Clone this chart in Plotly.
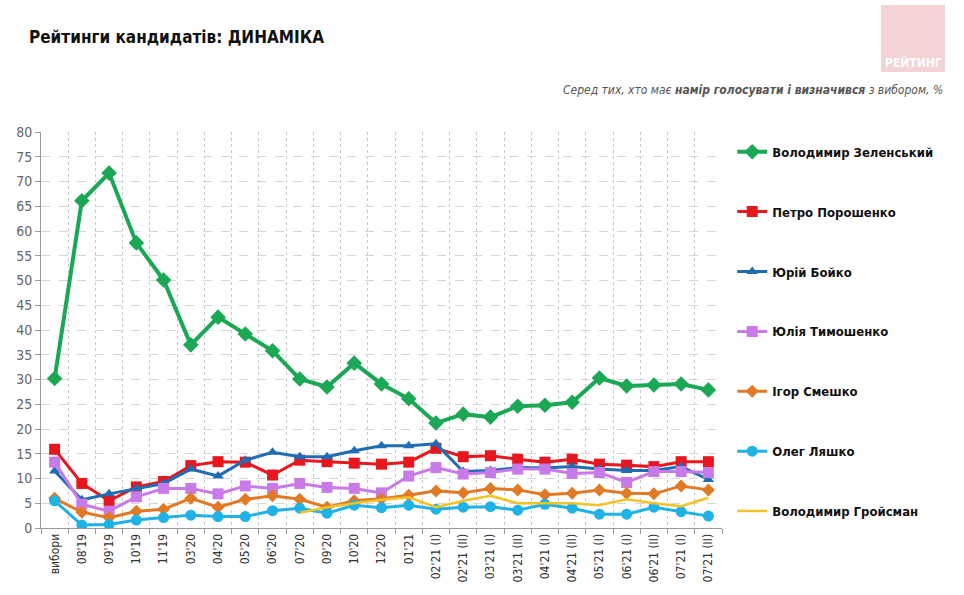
import plotly.graph_objects as go

categories = ["вибори", "08'19", "09'19", "10'19", "11'19", "03'20", "04'20", "05'20", "06'20",
              "07'20", "09'20", "10'20", "12'20", "01'21", "02'21 (I)", "02'21 (II)", "03'21 (I)",
              "03'21 (II)", "04'21 (I)", "04'21 (II)", "05'21 (I)", "06'21 (I)", "06'21 (II)",
              "07'21 (I)", "07'21 (II)"]

zelensky = [30.2, 66.1, 71.7, 57.6, 50.1, 37.0, 42.6, 39.2, 35.8, 30.1, 28.5, 33.3, 29.1, 26.1,
            21.2, 23.0, 22.4, 24.6, 24.8, 25.4, 30.3, 28.7, 28.9, 29.1, 27.9]
poroshenko = [15.9, 9.0, 5.5, 8.3, 9.4, 12.6, 13.4, 13.3, 10.7, 13.7, 13.4, 13.1, 12.9, 13.3,
              16.1, 14.4, 14.6, 13.9, 13.3, 13.9, 12.9, 12.7, 12.4, 13.4, 13.4]
boyko = [11.5, 5.7, 6.9, 8.0, 9.0, 11.9, 10.5, 13.7, 15.3, 14.4, 14.4, 15.6, 16.6, 16.6,
         17.0, 11.4, 11.6, 12.2, 12.1, 12.4, 11.9, 11.6, 11.6, 12.4, 9.8]
tymoshenko = [13.3, 4.8, 3.4, 6.3, 8.0, 8.0, 6.9, 8.5, 8.0, 9.0, 8.2, 8.0, 7.1, 10.5,
              12.2, 10.9, 11.2, 11.9, 11.9, 11.0, 11.2, 9.2, 11.4, 11.4, 11.2]
smeshko = [6.0, 3.2, 2.1, 3.4, 3.8, 6.0, 4.2, 5.8, 6.5, 5.8, 4.2, 5.5, 5.9, 6.6,
           7.5, 7.1, 8.0, 7.7, 6.7, 7.0, 7.7, 7.0, 6.9, 8.5, 7.7]
lyashko = [5.5, 0.6, 0.7, 1.6, 2.1, 2.6, 2.3, 2.3, 3.5, 4.0, 3.0, 4.6, 4.1, 4.6,
           3.8, 4.2, 4.3, 3.6, 4.8, 4.0, 2.8, 2.8, 4.2, 3.3, 2.4]
groysman = [None, None, None, None, None, None, None, None, None, 3.1, 4.2, 5.0, 5.7, 6.2,
            4.2, 5.5, 6.5, 5.0, 5.0, 5.0, 4.6, 5.8, 5.0, 4.4, 6.1]

names = ["Володимир Зеленський", "Петро Порошенко", "Юрій Бойко", "Юлія Тимошенко",
         "Ігор Смешко", "Олег Ляшко", "Володимир Гройсман"]

y_ticks = list(range(0, 81, 5))

FONT = "Liberation Sans Narrow, DejaVu Sans Condensed, Liberation Sans, Arial, sans-serif"

series = [
    (zelensky, "#1aa855", "diamond", 12, 4),
    (poroshenko, "#e8161d", "square", 11, 3),
    (boyko, "#1f6db3", "triangle-up", 10, 3),
    (tymoshenko, "#c97ae9", "square", 11, 3),
    (smeshko, "#e27a25", "diamond", 10, 3),
    (lyashko, "#1eb2e6", "circle", 11, 3),
    (groysman, "#f4c224", None, 0, 2.5),
]

fig = go.Figure()
for i, ((vals, color, sym, msize, lw), name) in enumerate(zip(series, names)):
    mode = "lines+markers" if sym else "lines"
    marker = dict(symbol=sym, size=msize, color=color) if sym else None
    fig.add_trace(go.Scatter(
        x=categories, y=vals, name=name, mode=mode,
        line=dict(color=color, width=lw),
        marker=marker, legendgroup=f"g{i}", connectgaps=False,
    ))

fig.update_layout(
    width=964, height=595,
    margin=dict(l=41, r=242, t=132, b=67, autoexpand=False),
    paper_bgcolor="white", plot_bgcolor="white",
    font=dict(family=FONT, color="#333"),
    title=dict(text="<b>Рейтинги кандидатів: ДИНАМІКА</b>", x=29 / 964, xanchor="left",
               xref="container", y=1 - 37 / 595, yanchor="middle", yref="container",
               font=dict(size=17, color="#111", family=FONT)),
    legend=dict(x=1.015, xref="paper", y=0.988, xanchor="left", yanchor="top",
                font=dict(size=13, color="#111", family=FONT, weight="bold"),
                tracegroupgap=40, itemwidth=30, bgcolor="rgba(0,0,0,0)"),
    showlegend=True,
)

fig.update_xaxes(
    type="category", tickson="boundaries", tickangle=-90,
    showgrid=True, gridcolor="#c8c8c8", griddash="dot", gridwidth=1,
    showline=True, linecolor="#999", linewidth=1,
    ticks="outside", ticklen=5, tickcolor="#999",
    tickfont=dict(size=12, color="#333", family=FONT),
    range=[-0.5, len(categories) - 0.5],
)
fig.update_yaxes(
    range=[0, 80], tickvals=y_ticks,
    showgrid=True, gridcolor="#d6d6d6", griddash="dash", gridwidth=1,
    showline=True, linecolor="#999", linewidth=1,
    ticks="outside", ticklen=5, tickcolor="#999",
    tickfont=dict(size=14, color="#666", family=FONT),
    zeroline=False,
)

fig.add_annotation(
    text="<i>Серед тих, хто має <b>намір голосувати і визначився</b> з вибором, %</i>",
    xref="paper", yref="paper", x=(945 - 41) / 681, y=(528 - 90) / 396,
    xanchor="right", yanchor="middle", showarrow=False,
    font=dict(size=12, color="#555", family=FONT),
)

fig.add_shape(type="rect", xref="paper", yref="paper",
              x0=(881 - 41) / 681, x1=(945 - 41) / 681,
              y0=(528 - 72) / 396, y1=(528 - 5) / 396,
              fillcolor="#f3d3d3", line=dict(width=0), layer="below")
fig.add_annotation(
    text="<b>РЕЙТИНГ</b>", xref="paper", yref="paper",
    x=(913 - 41) / 681, y=(528 - 63) / 396, xanchor="center", yanchor="middle",
    showarrow=False, font=dict(size=12, color="white", family=FONT),
)

fig.write_html("out.html", config={"displayModeBar": False},
               post_script="document.body.style.margin='0';")
